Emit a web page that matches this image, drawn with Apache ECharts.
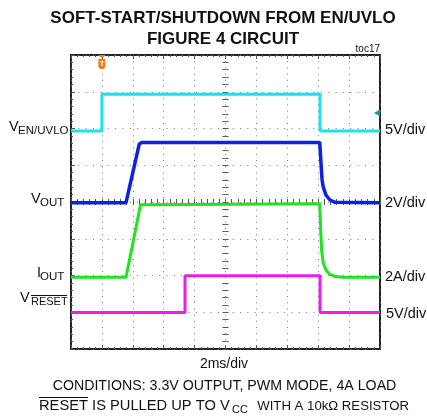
<!DOCTYPE html>
<html>
<head>
<meta charset="utf-8">
<script src="https://cdn.jsdelivr.net/npm/echarts@6/dist/echarts.min.js"></script>
<style>
  html, body { margin: 0; padding: 0; background: #fff; }
  #chart { width: 427px; height: 418px; }
</style>
</head>
<body>
<div id="chart"></div>
<script>
// time in ms (2ms/div), values in real units
const enTime = [0, 2.0, 2.0, 16.12, 16.12, 20]
const enVolts = [0, 0, 5, 5, 0, 0]

const outTime = [0, 3.56, 4.42, 4.58, 16.1, 16.18, 16.25, 16.33, 16.5, 16.76, 17.1, 20]
const outVolts = [0, 0, 3.2, 3.28, 3.28, 2.16, 1.24, 0.85, 0.42, 0.15, 0.02, 0]

const ioutTime = [0, 3.56, 4.5, 4.62, 16.1, 16.16, 16.22, 16.32, 16.5, 16.76, 17.1, 17.6, 20]
const ioutAmps = [0, 0, 3.95, 4.0, 4.0, 2.6, 1.5, 0.8, 0.4, 0.16, 0.04, 0, 0]

const resetTime = [0, 7.38, 7.38, 16.12, 16.12, 20]
const resetVolts = [0, 0, 5, 5, 0, 0]

// channel ground level (divisions from bottom) and scale (units/div)
const groundDiv = [5.93, 3.98, 1.95, 0.99]
const perDiv = [5, 2, 2, 5]
const scaleLabels = ['5V/div', '2V/div', '2A/div', '5V/div']

const FONT = '"Liberation Sans", Arial, Helvetica, sans-serif'

function toDiv(times, vals, ch) {
  return times.map((t, i) => [t, groundDiv[ch] + vals[i] / perDiv[ch]])
}

const chart = echarts.init(document.getElementById('chart'))

const gridLine = (dash) => ({ show: true, lineStyle: { color: '#777', width: 1, type: dash } })
const tickAxis = (extra) => Object.assign({
  gridIndex: 0,
  type: 'value',
  axisLabel: { show: false },
  splitLine: { show: false },
  axisTick: { show: true, length: 4, lineStyle: { color: '#555' } },
  minorTick: { show: true, splitNumber: 5, length: 3, lineStyle: { color: '#555' } }
}, extra)

function txt(x, y, text, size, opts) {
  return {
    type: 'text',
    x: x,
    y: y,
    style: Object.assign({
      text: text,
      fontSize: size,
      fontFamily: FONT,
      fill: '#111',
      textAlign: 'left',
      textVerticalAlign: 'middle'
    }, opts || {})
  }
}

const traceColors = ['#18e3ec', '#0d20e6', '#1fe41f', '#ec1ced']

chart.setOption({
  animation: false,
  backgroundColor: '#fff',
  grid: {
    left: 71, top: 55, width: 309, height: 294,
    show: true, borderColor: '#222', borderWidth: 2, backgroundColor: '#fff'
  },
  xAxis: [
    tickAxis({
      min: 0, max: 20, interval: 2, position: 'bottom',
      axisLine: { show: false, onZero: false },
      axisTick: { show: true, inside: true, length: 4, lineStyle: { color: '#555' } },
      minorTick: { show: true, splitNumber: 5, length: 2, lineStyle: { color: '#555' } },
      splitLine: gridLine([1, 5.18])
    }),
    // center crosshair ticks
    tickAxis({ min: -10, max: 10, interval: 2, axisLine: { show: false, onZero: true, onZeroAxisIndex: 1 }, axisTick: { show: true, inside: true, length: 3, lineStyle: { color: '#555' } } }),
    tickAxis({ min: -10, max: 10, interval: 2, axisLine: { show: false, onZero: true, onZeroAxisIndex: 1 }, axisTick: { show: true, inside: false, length: 3, lineStyle: { color: '#555' } } }),
    tickAxis({
      min: 0, max: 20, interval: 2, position: 'top',
      axisLine: { show: false, onZero: false },
      axisTick: { show: true, inside: true, length: 4, lineStyle: { color: '#555' } },
      minorTick: { show: true, splitNumber: 5, length: 2, lineStyle: { color: '#555' } }
    })
  ],
  yAxis: [
    tickAxis({
      min: 0, max: 8, interval: 1, position: 'left',
      axisLine: { show: false, onZero: false },
      axisTick: { show: true, inside: true, length: 4, lineStyle: { color: '#555' } },
      minorTick: { show: true, splitNumber: 5, length: 2, lineStyle: { color: '#555' } },
      splitLine: gridLine([1, 6.35])
    }),
    tickAxis({ min: -4, max: 4, interval: 1, axisLine: { show: false, onZero: true, onZeroAxisIndex: 1 }, axisTick: { show: true, inside: true, length: 3, lineStyle: { color: '#555' } } }),
    tickAxis({ min: -4, max: 4, interval: 1, axisLine: { show: false, onZero: true, onZeroAxisIndex: 1 }, axisTick: { show: true, inside: false, length: 3, lineStyle: { color: '#555' } } })
  ],
  series: [
    {
      name: 'EN/UVLO', type: 'line', showSymbol: false,
      lineStyle: { color: traceColors[0], width: 3 },
      data: toDiv(enTime, enVolts, 0),
      markPoint: {
        silent: true,
        data: [
          {
            coord: [2, 7.81],
            symbol: 'path://M0,0 L8,0 L4,3 Z M0.5,4 L7.5,4 L7.5,11 Q7.5,14 4,14 Q0.5,14 0.5,11 Z',
            symbolSize: [8, 14],
            itemStyle: { color: '#f07818' },
            label: { show: true, formatter: 'T', color: '#fff', fontSize: 8, fontWeight: 'bold', fontFamily: FONT, offset: [0, 2] }
          },
          {
            coord: [20, 6.42],
            symbol: 'triangle',
            symbolRotate: 90,
            symbolSize: [7, 6],
            symbolOffset: [-3, 0],
            itemStyle: { color: '#139a9c' },
            label: { show: false }
          }
        ]
      }
    },
    {
      name: 'VOUT', type: 'line', showSymbol: false,
      lineStyle: { color: traceColors[1], width: 3.5 },
      data: toDiv(outTime, outVolts, 1)
    },
    {
      name: 'IOUT', type: 'line', showSymbol: false,
      lineStyle: { color: traceColors[2], width: 3 },
      data: toDiv(ioutTime, ioutAmps, 2)
    },
    {
      name: 'RESET', type: 'line', showSymbol: false,
      lineStyle: { color: traceColors[3], width: 3 },
      data: toDiv(resetTime, resetVolts, 3)
    }
  ],
  graphic: [
    txt(223, 18, 'SOFT-START/SHUTDOWN FROM EN/UVLO', 17, { fontWeight: 'bold', textAlign: 'center' }),
    txt(223, 39, 'FIGURE 4 CIRCUIT', 17, { fontWeight: 'bold', textAlign: 'center' }),
    txt(380, 49, 'toc17', 10, { textAlign: 'right' }),

    // left channel labels
    txt(9, 127, 'V', 14.5),
    txt(18, 131, 'EN/UVLO', 11.5),
    txt(31, 199, 'V', 14.5),
    txt(40, 203, 'OUT', 11.5),
    txt(37, 272.5, 'I', 14.5),
    txt(40, 277, 'OUT', 11.5),
    txt(20, 298, 'V', 14.5),
    txt(31, 302, 'RESET', 11),
    { type: 'line', shape: { x1: 31, y1: 295.5, x2: 67, y2: 295.5 }, style: { stroke: '#111', lineWidth: 1 } },

    // right scale labels
    txt(385, 130, scaleLabels[0], 14.5),
    txt(385, 203, scaleLabels[1], 14.5),
    txt(385, 277, scaleLabels[2], 14.5),
    txt(386, 314, scaleLabels[3], 14.5),

    txt(224, 364, '2ms/div', 14, { textAlign: 'center' }),
    txt(224.5, 386.5, 'CONDITIONS: 3.3V OUTPUT, PWM MODE, 4A LOAD', 14.2, { textAlign: 'center' }),
    txt(39, 406, 'RESET IS PULLED UP TO V', 14.7),
    txt(232, 410, 'CC', 11),
    txt(409, 406, 'WITH A 10kΩ RESISTOR', 13.2, { textAlign: 'right' }),
    { type: 'line', shape: { x1: 39, y1: 397.5, x2: 88, y2: 397.5 }, style: { stroke: '#111', lineWidth: 1 } }
  ]
})
</script>
</body>
</html>
